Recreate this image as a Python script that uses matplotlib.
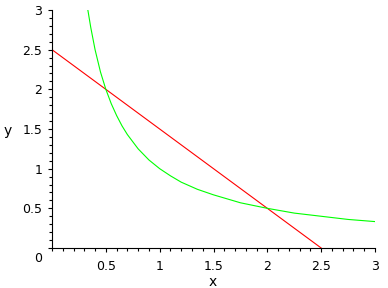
import matplotlib
matplotlib.use("Agg")
import matplotlib.pyplot as plt
import matplotlib.transforms as mtransforms
from matplotlib.ticker import MultipleLocator

# red straight line
line_x = [0.0, 0.5, 1.0, 1.5, 2.0, 2.5]
line_y = [2.5, 2.0, 1.5, 1.0, 0.5, 0.0]

# green curve, values
curve_x = [0.333, 0.36, 0.4, 0.45, 0.5, 0.55, 0.6, 0.65, 0.7, 0.8, 0.9, 1.0,
           1.1, 1.2, 1.35, 1.5, 1.75, 2.0, 2.25, 2.5, 2.75, 3.0]
curve_y = [3.0, 2.78, 2.5, 2.22, 2.0, 1.82, 1.67, 1.54, 1.43, 1.25, 1.11, 1.0,
           0.91, 0.83, 0.74, 0.67, 0.57, 0.5, 0.44, 0.4, 0.36, 0.333]

x_ticks = [0.5, 1, 1.5, 2, 2.5, 3]
x_labels = ["0.5", "1", "1.5", "2", "2.5", "3"]
y_ticks = [0, 0.5, 1, 1.5, 2, 2.5, 3]
y_labels = ["0", "0.5", "1", "1.5", "2", "2.5", "3"]

fig = plt.figure(figsize=(3.88, 2.88), dpi=100)
ax = fig.add_axes([52/388, 40/288, 323/388, 238/288])

ax.plot(line_x, line_y, color="#ff0000", lw=0.8)
ax.plot(curve_x, curve_y, color="#00ff00", lw=0.8)

ax.set_xlim(0, 3)
ax.set_ylim(0, 3)
ax.set_xticks(x_ticks)
ax.set_xticklabels(x_labels)
ax.set_yticks(y_ticks)
ax.set_yticklabels(y_labels)
ax.xaxis.set_minor_locator(MultipleLocator(0.1))
ax.yaxis.set_minor_locator(MultipleLocator(0.1))

for s in ["top", "right"]:
    ax.spines[s].set_visible(False)
for s in ["left", "bottom"]:
    ax.spines[s].set_linewidth(0.8)

ax.tick_params(which="major", length=3, width=0.8, labelsize=9, pad=4)
ax.tick_params(which="minor", length=2, width=0.8)
ax.tick_params(axis="x", pad=6)

# the "0" label sits a little below the x axis
lab0 = ax.get_yticklabels()[0]
lab0.set_transform(lab0.get_transform() +
                   mtransforms.ScaledTranslation(0, -9/100, fig.dpi_scale_trans))

ax.set_xlabel("x", fontsize=10)
ax.set_ylabel("y", fontsize=10, rotation=0, va="center")
ax.xaxis.set_label_coords((213 - 52) / 323, -27 / 238)
ax.yaxis.set_label_coords(-44 / 323, (248 - 131) / 238)

fig.savefig("out.png", dpi=100)
